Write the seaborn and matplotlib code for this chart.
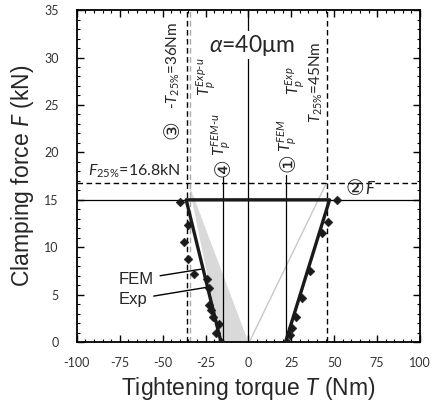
import numpy as np
import pandas as pd
import matplotlib
matplotlib.use("Agg")
import matplotlib.pyplot as plt
import seaborn as sns
from matplotlib.ticker import MultipleLocator

# ---- data ----
# FEM curve: unloading / loading envelope (torque Nm, force kN)
fem_torque = [-16.0, -36.3, 47.3, 21.6]
fem_force = [0.0, 15.0, 15.0, 0.0]

# Experimental points
exp_torque = [-40.1, -35.3, -37.6, -35.3, -31.8, -24.2, -23.2, -23.0, -22.0, -20.6, -17.1, -18.7, -16.2,
              51.5, 46.2, 42.7, 35.9, 31.4, 27.7, 25.6, 24.2, 22.2]
exp_force = [14.8, 12.3, 10.6, 8.8, 7.2, 6.7, 5.7, 3.9, 3.4, 2.7, 1.9, 1.0, 0.0,
             15.0, 12.7, 11.5, 7.5, 4.7, 2.7, 1.5, 0.8, 0.0]

# grey wedge (prediction band) and thin grey line
wedge_torque = [-35.0, -16.0, 0.0]
wedge_force = [16.8, 0.0, 0.0]
grey_torque = [0.5, 45.0]
grey_force = [0.0, 16.6]

F25 = 16.8
F_clamp = 15.0
T25_neg = -36.0
T25_neg_b = -34.0
T25_pos = 46.0
Tp_fem_u = -15.0
Tp_fem = 21.7

fem_df = pd.DataFrame({"T": fem_torque, "F": fem_force})
exp_df = pd.DataFrame({"T": exp_torque, "F": exp_force})

sns.set_style("ticks")
plt.rcParams['font.family'] = ['Liberation Sans', 'DejaVu Sans']
plt.rcParams['axes.unicode_minus'] = False
plt.rcParams['mathtext.fontset'] = 'custom'
plt.rcParams['mathtext.rm'] = 'Lato'
plt.rcParams['mathtext.it'] = 'Lato:italic'
plt.rcParams['mathtext.bf'] = 'Lato:bold'

fig = plt.figure(figsize=(4.37, 4.03), dpi=100)
ax = fig.add_axes([0.176, 0.151, 0.785, 0.824])

lbl_font = ['Lato', 'DejaVu Sans']
circ_font = ['DejaVu Sans']

# grey band
ax.fill(wedge_torque, wedge_force, color='#d9d9d9', lw=0, zorder=1)
ax.plot(grey_torque, grey_force, color='#c8c8c8', lw=1.0, zorder=1)

# reference lines
ax.axhline(F25, color='black', ls=(0, (4, 2.5)), lw=1.0, zorder=2)
ax.axhline(F_clamp, color='black', lw=0.9, zorder=2)
ax.axvline(T25_neg, color='black', ls=(0, (4, 2.5)), lw=1.0, zorder=2)
ax.axvline(T25_neg_b, color='#aaaaaa', ls=(0, (4, 2.5)), lw=1.0, zorder=2)
ax.axvline(T25_pos, color='black', ls=(0, (4, 2.5)), lw=1.0, zorder=2)
ax.axvline(0, color='black', lw=0.9, zorder=2)
ax.plot([Tp_fem_u, Tp_fem_u], [0, 17.4], color='black', lw=0.9, zorder=2)
ax.plot([Tp_fem, Tp_fem], [0, 17.6], color='black', lw=0.9, zorder=2)

# FEM and experiment
sns.lineplot(data=fem_df, x="T", y="F", sort=False, estimator=None, color='#1a1a1a',
             lw=2.4, ax=ax, zorder=4)
sns.scatterplot(data=exp_df, x="T", y="F", marker='D', s=20, color='#1a1a1a',
                edgecolor='#1a1a1a', ax=ax, zorder=5)

ax.set_xlim(-100, 100)
ax.set_ylim(0, 35)
ax.xaxis.set_major_locator(MultipleLocator(25))
ax.xaxis.set_minor_locator(MultipleLocator(5))
ax.yaxis.set_major_locator(MultipleLocator(5))
ax.yaxis.set_minor_locator(MultipleLocator(1))
ax.tick_params(which='both', direction='in', top=True, right=True, bottom=True, left=True,
               color='black')
ax.tick_params(which='major', length=5, width=1.0, labelsize=9)
ax.tick_params(axis='x', which='major', pad=11)
ax.tick_params(axis='y', which='major', pad=13)
ax.tick_params(which='minor', length=2.5, width=0.8)
for lab in ax.get_xticklabels() + ax.get_yticklabels():
    lab.set_family(lbl_font)
    lab.set_color('#333333')
for s in ax.spines.values():
    s.set_color('black')
    s.set_linewidth(1.3)

ax.set_xlabel("Tightening torque $\\mathit{T}$ (Nm)", fontsize=16.5, labelpad=4)
ax.set_ylabel("Clamping force $\\mathit{F}$ (kN)", fontsize=16.5, labelpad=6)

# annotations
ax.text(2, 31.3, "$\\alpha$=40μm", fontsize=16.5, ha='center', va='center', family=lbl_font,
        bbox=dict(facecolor='white', edgecolor='none', pad=1), zorder=6)
ax.text(-93.5, 17.1, "$F_{25\\%}$=16.8kN", fontsize=11.5, ha='left', va='bottom', family=lbl_font)

ax.text(-43.8, 29.2, "-$T_{25\\%}$=36Nm", fontsize=11, rotation=90, ha='center', va='center',
        family=lbl_font)
ax.text(-25.0, 28.0, "$T_p^{Exp\\text{-}u}$", fontsize=11.5, rotation=90, ha='center', va='center',
        family=lbl_font)
ax.text(-16.2, 21.9, "$T_p^{FEM\\text{-}u}$", fontsize=11.5, rotation=90, ha='center', va='center',
        family=lbl_font)
ax.text(22.8, 21.8, "$T_p^{FEM}$", fontsize=11.5, rotation=90, ha='center', va='center',
        family=lbl_font)
ax.text(27.0, 27.5, "$T_p^{Exp}$", fontsize=11.5, rotation=90, ha='center', va='center',
        family=lbl_font)
ax.text(39.8, 27.4, "$T_{25\\%}$=45Nm", fontsize=11, rotation=90, ha='center', va='center',
        family=lbl_font)
ax.text(68.0, 16.2, "$F$", fontsize=12, ha='left', va='center', family=lbl_font)

# circled markers
ax.text(-44.0, 22.4, "③", fontsize=15, rotation=90, ha='center', va='center', family=circ_font)
ax.text(-14.6, 18.4, "④", fontsize=15, rotation=90, ha='center', va='center', family=circ_font)
ax.text(23.3, 18.9, "①", fontsize=15, rotation=90, ha='center', va='center', family=circ_font)
ax.text(62.2, 16.1, "②", fontsize=15, ha='center', va='center', family=circ_font)

ax.annotate("FEM", xy=(-27.3, 7.7), xytext=(-75.5, 6.6), fontsize=12, family=['Liberation Sans'],
            va='center', ha='left',
            arrowprops=dict(arrowstyle='-', color='black', lw=1.0, shrinkA=2, shrinkB=0))
ax.annotate("Exp", xy=(-23.6, 5.8), xytext=(-75.5, 4.5), fontsize=12, family=['Liberation Sans'],
            va='center', ha='left',
            arrowprops=dict(arrowstyle='-', color='black', lw=1.0, shrinkA=2, shrinkB=0))

fig.savefig("out.png", dpi=100)
